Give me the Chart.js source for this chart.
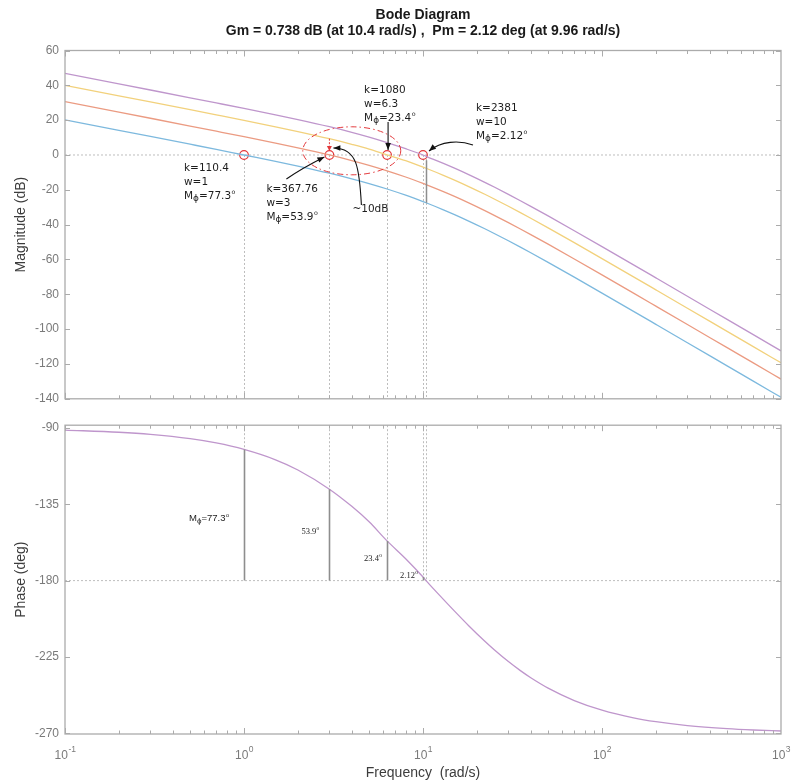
<!DOCTYPE html>
<html>
<head>
<meta charset="utf-8">
<title>Bode Diagram</title>
<script src="https://cdn.jsdelivr.net/npm/chart.js@4/dist/chart.umd.min.js"></script>
<style>
  html, body { margin: 0; padding: 0; background: #ffffff; }
  #wrap { position: relative; width: 793px; height: 783px; }
  #mag { position: absolute; left: 0; top: 0; }
  #ph  { position: absolute; left: 0; top: 412px; }
</style>
</head>
<body>
<div id="wrap">
  <canvas id="mag" width="793" height="412"></canvas>
  <canvas id="ph" width="793" height="371"></canvas>
</div>
<script>
// ---- data -------------------------------------------------------------
// frequency samples (rad/s)
const freq = [0.1, 0.2, 0.3, 0.5, 0.7, 1, 1.5, 2, 3, 4, 5, 6.3, 8, 10, 10.4, 13, 15, 18, 22, 25,
              30, 35, 40, 50, 70, 100, 150, 200, 300, 500, 700, 1000];

// magnitude (dB) for each loop gain k
const magK110 = [20.19, 14.17, 10.64, 6.18, 3.22, 0, -3.62, -6.34, -10.44, -13.66, -16.40, -19.53, -23.09, -26.75,
                 -27.43, -31.47, -34.22, -37.93, -42.22, -45.08, -49.27, -52.93, -56.16, -61.67, -70.15, -79.29,
                 -89.77, -97.24, -107.78, -121.09, -129.85, -139.14];
const magK368 = [30.64, 24.62, 21.09, 16.63, 13.67, 10.51, 6.83, 4.11, 0, -3.21, -5.95, -9.08, -12.64, -16.30,
                 -16.98, -21.02, -23.77, -27.48, -31.77, -34.63, -38.82, -42.48, -45.71, -51.22, -59.70, -68.84,
                 -79.32, -86.79, -97.33, -110.64, -119.40, -128.69];
const magK1080 = [40.00, 33.98, 30.45, 25.99, 23.03, 19.87, 16.19, 13.47, 9.37, 6.15, 3.41, 0, -3.28, -6.94,
                  -7.62, -11.66, -14.41, -18.12, -22.41, -25.27, -29.46, -33.12, -36.35, -41.86, -50.34, -59.48,
                  -69.96, -77.43, -87.97, -101.28, -110.04, -119.33];
const magK2381 = [46.87, 40.85, 37.32, 32.86, 29.90, 26.74, 23.06, 20.34, 16.24, 13.02, 10.28, 7.15, 3.59, 0,
                  -0.74, -4.79, -7.54, -11.25, -15.54, -18.40, -22.59, -26.25, -29.48, -34.99, -43.47, -52.61,
                  -63.09, -70.56, -81.10, -94.41, -103.17, -112.46];

// phase (deg), the same for every k
const phaseDeg = [-91.27, -92.55, -93.82, -96.36, -98.88, -102.7, -108.80, -114.78, -126.1, -136.22, -145.33,
                  -156.6, -167.09, -177.88, -180.0, -191.06, -198.00, -206.57, -215.46, -220.75, -227.73, -233.06,
                  -237.24, -243.36, -250.68, -256.36, -260.87, -263.14, -265.42, -267.25, -268.04, -268.63];

// 0 dB crossover of each gain and its phase margin
const gainText  = ['110.4', '367.76', '1080', '2381'];
const crossW    = [1, 3, 6.3, 10];
const crossDb   = [0, 0, 0, 0];
const marginDeg = [77.3, 53.9, 23.4, 2.12];

// stability margins of the largest gain
const gmDb = 0.738, gmW = 10.4;
const pmDeg = 2.12, pmW = 9.96;

// axis ticks
const magTicks   = [60, 40, 20, 0, -20, -40, -60, -80, -100, -120, -140];
const phaseTicks = [-90, -135, -180, -225, -270];
const decadeTicks = [0.1, 1, 10, 100, 1000];
const decadeExp   = ['-1', '0', '1', '2', '3'];

// ---- styling --------------------------------------------------------------
const SANS  = "'Liberation Sans', Arial, Helvetica, sans-serif";
const NOTE  = "'DejaVu Sans', Verdana, sans-serif";
const SERIF = "'Liberation Serif', 'Times New Roman', serif";
const AXIS_COLOR = '#ababab';
const TICK_TEXT  = '#7a7a7a';
const AXIS_TITLE = '#3c3c3c';
const NOTE_COLOR = '#1d1d1d';
const RED   = '#e3383b';
const GUIDE = '#bdbdbd';
const STEM  = '#8e8e8e';
const COLORS = ['#7db9de', '#eb9b82', '#f2d17c', '#bf96cc'];

const pts = ys => freq.map((f, i) => ({ x: f, y: ys[i] }));

// ---- drawing helpers ------------------------------------------------------
function frameAndTicks(chart) {
  const { ctx, chartArea: a, scales: { x, y } } = chart;
  ctx.save();
  ctx.strokeStyle = AXIS_COLOR;
  ctx.lineWidth = 1;
  ctx.beginPath();
  y.ticks.forEach(t => {
    const py = Math.round(y.getPixelForValue(t.value)) + 0.5;
    ctx.moveTo(a.left, py); ctx.lineTo(a.left + 5, py);
    ctx.moveTo(a.right, py); ctx.lineTo(a.right - 5, py);
  });
  for (let e = -1; e <= 2; e++) {
    for (let m = 1; m <= 9; m++) {
      const px = Math.round(x.getPixelForValue(m * Math.pow(10, e))) + 0.5;
      const len = m === 1 ? 6 : 3.5;
      ctx.moveTo(px, a.bottom); ctx.lineTo(px, a.bottom - len);
      ctx.moveTo(px, a.top); ctx.lineTo(px, a.top + len);
    }
  }
  ctx.stroke();
  ctx.lineWidth = 1.3;
  ctx.strokeRect(a.left, a.top, a.right - a.left, a.bottom - a.top);
  ctx.restore();
}

function arrowHead(ctx, x, y, ang, len, wid) {
  const c = Math.cos(ang), s = Math.sin(ang);
  ctx.beginPath();
  ctx.moveTo(x, y);
  ctx.lineTo(x - len * c + wid * s, y - len * s - wid * c);
  ctx.lineTo(x - len * c - wid * s, y - len * s + wid * c);
  ctx.closePath();
  ctx.fill();
}

function curveArrow(ctx, p0, c1, c2, p3) {
  ctx.beginPath();
  ctx.moveTo(p0[0], p0[1]);
  ctx.bezierCurveTo(c1[0], c1[1], c2[0], c2[1], p3[0], p3[1]);
  ctx.stroke();
  arrowHead(ctx, p3[0], p3[1], Math.atan2(p3[1] - c2[1], p3[0] - c2[0]), 7, 2.8);
}

// "Mϕ=value°" with a subscript phi and a raised small o
function drawMphi(ctx, x, y, value, size, family) {
  ctx.textAlign = 'left';
  ctx.textBaseline = 'middle';
  ctx.font = `${size}px ${family}`;
  ctx.fillText('M', x, y);
  x += ctx.measureText('M').width;
  ctx.font = `${size * 0.85}px ${family}`;
  ctx.fillText('\u03D5', x, y + size * 0.25);
  x += ctx.measureText('\u03D5').width;
  ctx.font = `${size}px ${family}`;
  const t = '=' + value;
  ctx.fillText(t, x, y);
  x += ctx.measureText(t).width;
  ctx.font = `${size * 0.6}px ${family}`;
  ctx.fillText('o', x + 0.5, y - size * 0.35);
}

function degLabel(ctx, x, y, value, size, family) {
  ctx.textAlign = 'left';
  ctx.textBaseline = 'middle';
  ctx.font = `${size}px ${family}`;
  ctx.fillText(value, x, y);
  const w = ctx.measureText(value).width;
  ctx.font = `${size * 0.65}px ${family}`;
  ctx.fillText('o', x + w + 0.3, y - size * 0.35);
}

// ---- magnitude plot decorations --------------------------------------------
const magDecor = {
  id: 'magDecor',
  beforeDatasetsDraw(chart) {
    const { ctx, chartArea: a, scales: { x, y } } = chart;
    const y0 = y.getPixelForValue(0);
    ctx.save();
    ctx.strokeStyle = GUIDE;
    ctx.lineWidth = 1;
    ctx.setLineDash([2, 2]);
    ctx.beginPath();
    ctx.moveTo(a.left, y0); ctx.lineTo(a.right, y0);
    [crossW[0], crossW[1], crossW[2], pmW, gmW].forEach(w => {
      const px = Math.round(x.getPixelForValue(w)) + 0.5;
      ctx.moveTo(px, y0); ctx.lineTo(px, a.bottom);
    });
    ctx.stroke();
    ctx.restore();
  },
  afterDatasetsDraw(chart) {
    const { ctx, scales: { x, y } } = chart;
    const y0 = y.getPixelForValue(0);
    const cx = crossW.map(w => x.getPixelForValue(w));
    ctx.save();

    // gain-margin stem at the phase crossover, down to the lowest-gain curve
    const gi = freq.indexOf(gmW);
    const gx = Math.round(x.getPixelForValue(gmW)) + 0.5;
    ctx.strokeStyle = STEM;
    ctx.lineWidth = 1.5;
    ctx.beginPath();
    ctx.moveTo(gx, y.getPixelForValue(-gmDb) + 4);
    ctx.lineTo(gx, y.getPixelForValue(magK110[gi]));
    ctx.stroke();

    // ~10 dB gap at w = 3 between k=1080 and the 0 dB crossing
    const i3 = freq.indexOf(crossW[1]);
    const yTop = y.getPixelForValue(magK1080[i3]);
    ctx.strokeStyle = RED;
    ctx.fillStyle = RED;
    ctx.lineWidth = 1;
    ctx.setLineDash([2, 1.5]);
    ctx.beginPath();
    ctx.moveTo(cx[1], yTop); ctx.lineTo(cx[1], y0 - 8);
    ctx.stroke();
    ctx.setLineDash([]);
    arrowHead(ctx, cx[1], y0 - 4, Math.PI / 2, 5, 2.5);

    // dash-dot ellipse around the w = 3 … 6.3 region
    ctx.setLineDash([6, 3, 1.5, 3]);
    ctx.beginPath();
    ctx.ellipse(x.getPixelForValue(4.0), y.getPixelForValue(2.4), 49, 24, 0, 0, Math.PI * 2);
    ctx.stroke();
    ctx.setLineDash([]);

    // black arrows
    ctx.strokeStyle = '#111111';
    ctx.fillStyle = '#111111';
    ctx.lineWidth = 1.1;
    curveArrow(ctx, [cx[1] - 43, y0 + 24], [cx[1] - 30, y0 + 15], [cx[1] - 15, y0 + 7], [cx[1] - 5, y0 + 2]);
    curveArrow(ctx, [cx[1] + 32, y0 + 50], [cx[1] + 30, y0 + 13], [cx[1] + 28, y0 - 7], [cx[1] + 4, y0 - 7]);
    curveArrow(ctx, [cx[2] + 1, y0 - 33], [cx[2] + 1, y0 - 25], [cx[2] + 1, y0 - 15], [cx[2] + 1, y0 - 5]);
    curveArrow(ctx, [cx[3] + 50, y0 - 10], [cx[3] + 36, y0 - 15], [cx[3] + 18, y0 - 14], [cx[3] + 6, y0 - 4]);

    // gain notes
    const noteAt = [[-60, 13], [-63, 34], [-23, -65], [53, -47]];
    ctx.fillStyle = NOTE_COLOR;
    crossW.forEach((w, i) => {
      const tx = cx[i] + noteAt[i][0];
      const ty = y0 + noteAt[i][1];
      ctx.font = `10.5px ${NOTE}`;
      ctx.textAlign = 'left';
      ctx.textBaseline = 'middle';
      ctx.fillText('k=' + gainText[i], tx, ty);
      ctx.fillText('w=' + w, tx, ty + 14);
      drawMphi(ctx, tx, ty + 28, marginDeg[i], 10.5, NOTE);
    });
    ctx.font = `10.5px ${NOTE}`;
    ctx.textAlign = 'left';
    ctx.textBaseline = 'middle';
    ctx.fillText('~10dB', cx[1] + 23, y0 + 54);

    ctx.restore();
    frameAndTicks(chart);
  }
};

// ---- phase plot decorations ------------------------------------------------
const phaseDecor = {
  id: 'phaseDecor',
  beforeDatasetsDraw(chart) {
    const { ctx, chartArea: a, scales: { x, y } } = chart;
    const y180 = y.getPixelForValue(-180);
    ctx.save();
    ctx.strokeStyle = GUIDE;
    ctx.lineWidth = 1;
    ctx.setLineDash([2, 2]);
    ctx.beginPath();
    ctx.moveTo(a.left, y180); ctx.lineTo(a.right, y180);
    [crossW[0], crossW[1], crossW[2], pmW, gmW].forEach(w => {
      const px = Math.round(x.getPixelForValue(w)) + 0.5;
      ctx.moveTo(px, a.top); ctx.lineTo(px, y180);
    });
    ctx.stroke();
    ctx.restore();
  },
  afterDatasetsDraw(chart) {
    const { ctx, scales: { x, y } } = chart;
    const y180 = y.getPixelForValue(-180);
    ctx.save();

    // phase-margin stems
    ctx.strokeStyle = STEM;
    ctx.lineWidth = 1.6;
    ctx.beginPath();
    crossW.forEach((w, i) => {
      const px = Math.round(x.getPixelForValue(w)) + 0.5;
      ctx.moveTo(px, y180);
      ctx.lineTo(px, y.getPixelForValue(-180 + marginDeg[i]));
    });
    ctx.stroke();

    // margin values
    ctx.fillStyle = NOTE_COLOR;
    const px = crossW.map(w => x.getPixelForValue(w));
    drawMphi(ctx, px[0] - 55, y180 - 62, marginDeg[0], 9.5, SANS);
    degLabel(ctx, px[1] - 28, y180 - 49, String(marginDeg[1]), 8.5, SERIF);
    degLabel(ctx, px[2] - 23, y180 - 22, String(marginDeg[2]), 8.5, SERIF);
    degLabel(ctx, px[3] - 23, y180 - 5, String(marginDeg[3]), 8.5, SERIF);

    ctx.restore();
    frameAndTicks(chart);

    // decade labels 10^n
    const { chartArea: a } = chart;
    ctx.save();
    ctx.fillStyle = TICK_TEXT;
    ctx.textBaseline = 'alphabetic';
    ctx.textAlign = 'left';
    decadeTicks.forEach((w, i) => {
      ctx.font = `12px ${SANS}`;
      const wb = ctx.measureText('10').width;
      ctx.font = `8.5px ${SANS}`;
      const we = ctx.measureText(decadeExp[i]).width;
      const left = x.getPixelForValue(w) - (wb + we) / 2;
      const base = a.bottom + 25;
      ctx.font = `12px ${SANS}`;
      ctx.fillText('10', left, base);
      ctx.font = `8.5px ${SANS}`;
      ctx.fillText(decadeExp[i], left + wb + 0.5, base - 7);
    });
    ctx.restore();
  }
};

// ---- shared axis setup -----------------------------------------------------
const xAxis = (extra) => Object.assign({
  type: 'logarithmic',
  min: 0.1,
  max: 1000,
  grid: { display: false, drawTicks: false },
  border: { display: false },
  ticks: { display: false }
}, extra);

const yAxis = (min, max, ticks, title) => ({
  type: 'linear',
  min: min,
  max: max,
  grid: { display: false, drawTicks: false },
  border: { display: false },
  afterBuildTicks: s => { s.ticks = ticks.map(v => ({ value: v })); },
  afterFit: s => { s.width = 65; },
  ticks: {
    color: TICK_TEXT,
    padding: 6,
    font: { family: SANS, size: 12 },
    callback: v => String(v)
  },
  title: {
    display: true,
    text: title,
    color: AXIS_TITLE,
    font: { family: SANS, size: 14 },
    padding: { top: 13, bottom: 0 }
  }
});

Chart.defaults.animation = false;

// ---- magnitude chart --------------------------------------------------------
new Chart(document.getElementById('mag'), {
  type: 'line',
  data: {
    datasets: [
      { label: 'k=110.4', data: pts(magK110), borderColor: COLORS[0] },
      { label: 'k=367.76', data: pts(magK368), borderColor: COLORS[1] },
      { label: 'k=1080', data: pts(magK1080), borderColor: COLORS[2] },
      { label: 'k=2381', data: pts(magK2381), borderColor: COLORS[3] },
      {
        label: '0 dB crossovers',
        data: crossW.map((w, i) => ({ x: w, y: crossDb[i] })),
        showLine: false,
        pointRadius: 4.3,
        pointBorderWidth: 1.2,
        pointBorderColor: RED,
        pointBackgroundColor: 'rgba(0,0,0,0)'
      }
    ].map(d => Object.assign({
      borderWidth: 1.3,
      pointRadius: 0,
      cubicInterpolationMode: 'monotone',
      fill: false
    }, d))
  },
  options: {
    responsive: false,
    layout: { padding: { left: 0, right: 12, top: 0, bottom: 6.5 } },
    plugins: {
      legend: { display: false },
      tooltip: { enabled: false },
      title: {
        display: true,
        fullSize: false,
        text: ['Bode Diagram', 'Gm = ' + gmDb + ' dB (at ' + gmW + ' rad/s) ,  Pm = ' + pmDeg + ' deg (at ' + pmW + ' rad/s)'],
        color: '#1a1a1a',
        font: { family: SANS, size: 14, weight: 'bold', lineHeight: '16px' },
        padding: { top: 7, bottom: 11.5 }
      }
    },
    scales: {
      x: xAxis({ display: false }),
      y: yAxis(-140, 60, magTicks, 'Magnitude (dB)')
    }
  },
  plugins: [magDecor]
});

// ---- phase chart ------------------------------------------------------------
new Chart(document.getElementById('ph'), {
  type: 'line',
  data: {
    datasets: [{
      label: 'Phase',
      data: pts(phaseDeg),
      borderColor: COLORS[3],
      borderWidth: 1.3,
      pointRadius: 0,
      cubicInterpolationMode: 'monotone',
      fill: false
    }]
  },
  options: {
    responsive: false,
    layout: { padding: { left: 0, right: 12, top: 7.3, bottom: 0 } },
    plugins: {
      legend: { display: false },
      tooltip: { enabled: false }
    },
    scales: {
      x: xAxis({
        display: true,
        afterFit: s => { s.height = 49; },
        title: {
          display: true,
          text: 'Frequency  (rad/s)',
          color: AXIS_TITLE,
          font: { family: SANS, size: 14 },
          padding: { top: 0, bottom: 1.6 }
        }
      }),
      y: yAxis(-270.4, -88.4, phaseTicks, 'Phase (deg)')
    }
  },
  plugins: [phaseDecor]
});
</script>
</body>
</html>
